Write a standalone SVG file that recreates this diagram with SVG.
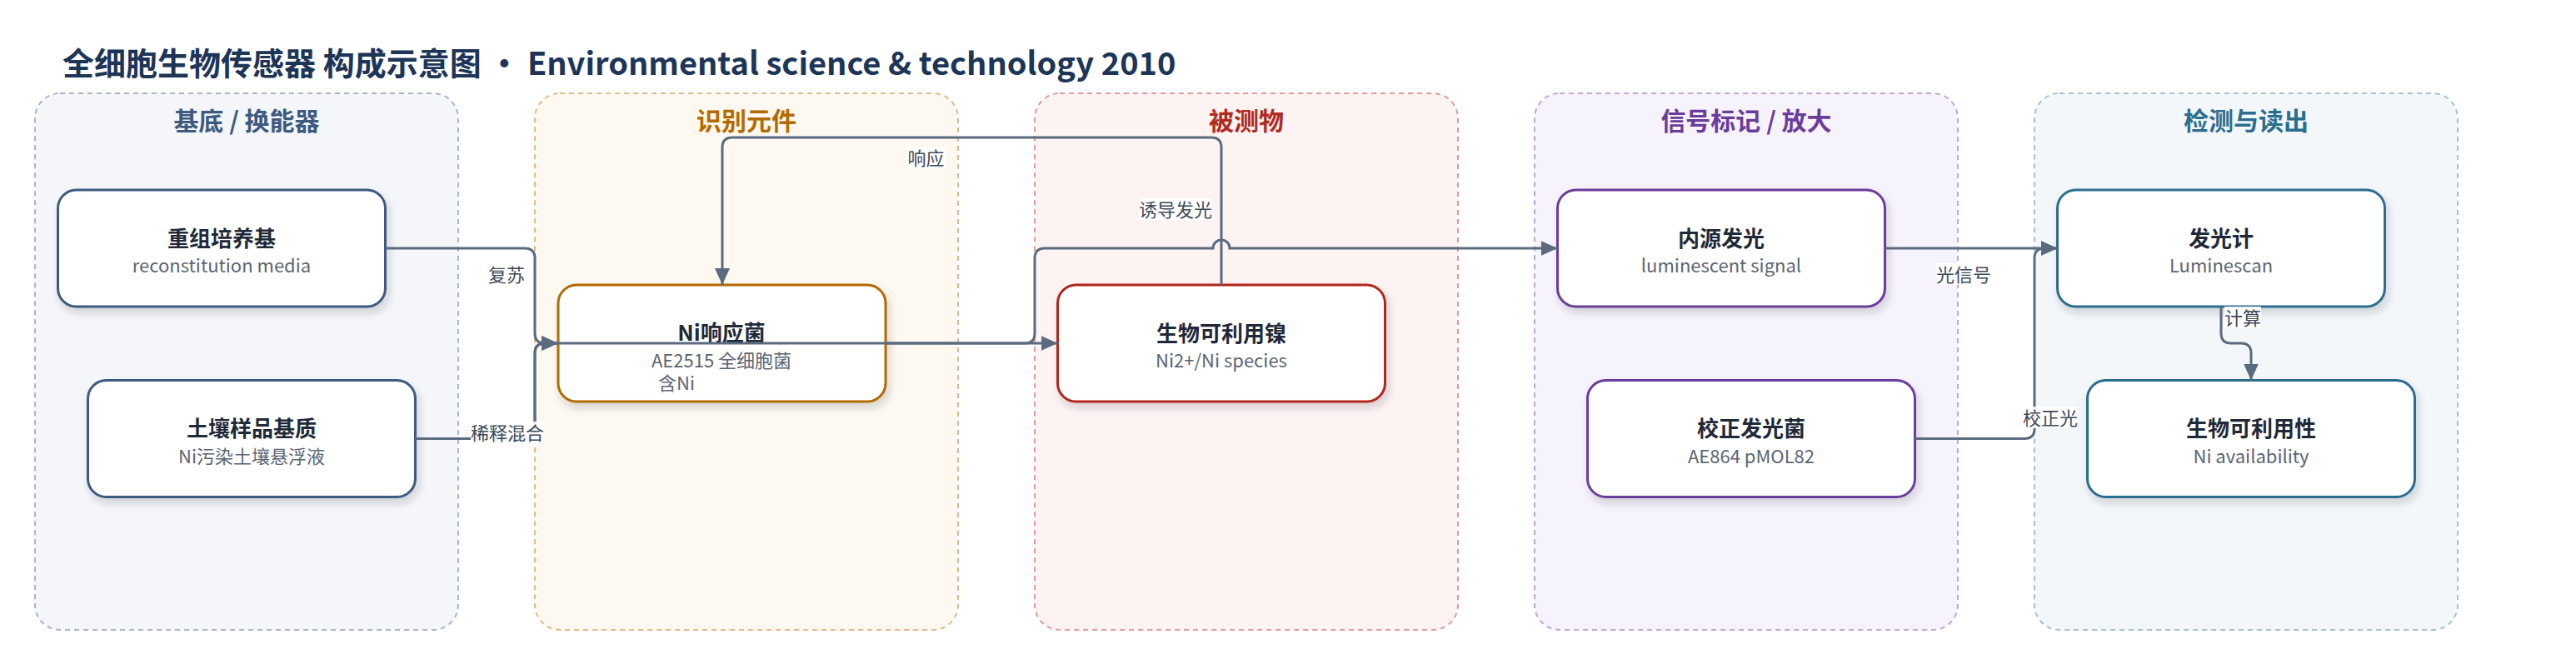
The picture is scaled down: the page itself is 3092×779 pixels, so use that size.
<svg xmlns="http://www.w3.org/2000/svg" width="3092" height="779" viewBox="0 0 3092 779">
<defs>
<filter id="sh" x="-10%" y="-10%" width="125%" height="140%">
<feDropShadow dx="3" dy="6" stdDeviation="5" flood-color="#1f2937" flood-opacity="0.18"/>
</filter>
<marker id="ah" markerUnits="userSpaceOnUse" markerWidth="20" markerHeight="18" refX="20" refY="9" orient="auto">
<path d="M0,0 L20,9 L0,18 z" fill="#5b6b7f"/>
</marker>
</defs>
<style>
text{font-family:"Noto Sans CJK SC","Noto Sans",sans-serif}
.cl{stroke-width:2;stroke-dasharray:6 5}
.ct{font-size:30px;font-weight:700;text-anchor:middle}
.nd{fill:#fff;stroke-width:3;filter:url(#sh)}
.nt{font-size:26px;font-weight:700;fill:#1f2937;text-anchor:middle}
.ns{font-size:22px;fill:#5b6573;text-anchor:middle}
.e{fill:none;stroke:#5b6b7f;stroke-width:3}
.ea{marker-end:url(#ah)}
.lb{font-size:22px;fill:#3f4a5a;text-anchor:middle}
.lbg{fill:#fff;fill-opacity:0.9}
</style>
<rect width="3092" height="779" fill="#fff"/>
<text x="75" y="90" font-size="38" font-weight="700" fill="#1d3557">全细胞生物传感器 构成示意图 · Environmental science &amp; technology 2010</text>

<g id="clusters">
<g id="c1"><rect class="cl" x="42" y="112" width="508" height="644" rx="30" fill="#f4f6fa" stroke="#a8b4c6"/><text class="ct" x="296" y="156" fill="#3d5a80">基底 / 换能器</text></g>
<g id="c2"><rect class="cl" x="642" y="112" width="508" height="644" rx="30" fill="#fdf8f0" stroke="#e0bb85"/><text class="ct" x="896" y="156" fill="#b36b00">识别元件</text></g>
<g id="c3"><rect class="cl" x="1242" y="112" width="508" height="644" rx="30" fill="#fdf3f2" stroke="#e09a9a"/><text class="ct" x="1496" y="156" fill="#b02a1f">被测物</text></g>
<g id="c4"><rect class="cl" x="1842" y="112" width="508" height="644" rx="30" fill="#f7f3fc" stroke="#c0a5dc"/><text class="ct" x="2096" y="156" fill="#6a3d9a">信号标记 / 放大</text></g>
<g id="c5"><rect class="cl" x="2442" y="112" width="508" height="644" rx="30" fill="#f3f7f9" stroke="#a6c2d0"/><text class="ct" x="2696" y="156" fill="#2c6e8f">检测与读出</text></g>
</g>

<g id="n1"><rect class="nd" x="69.5" y="228" width="393" height="140" rx="22" stroke="#3d5a80"/><text class="nt" x="266" y="295.5">重组培养基</text><text class="ns" x="266" y="327">reconstitution media</text></g>
<g id="n2"><rect class="nd" x="105.5" y="456.5" width="393" height="140" rx="22" stroke="#3d5a80"/><text class="nt" x="302" y="524">土壤样品基质</text><text class="ns" x="302" y="556">Ni污染土壤悬浮液</text></g>
<g id="n3"><rect class="nd" x="670" y="342" width="393" height="140" rx="22" stroke="#b36b00"/><text class="nt" x="866" y="408.5">Ni响应菌</text><text class="ns" x="866" y="441">AE2515 全细胞菌</text><text class="ns" x="790" y="468" style="text-anchor:start">含Ni</text></g>
<g id="n4"><rect class="nd" x="1269.5" y="342" width="393" height="140" rx="22" stroke="#b3261e"/><text class="nt" x="1466" y="409.5">生物可利用镍</text><text class="ns" x="1466" y="441">Ni2+/Ni species</text></g>
<g id="n5"><rect class="nd" x="1869.5" y="228" width="393" height="140" rx="22" stroke="#6a3d9a"/><text class="nt" x="2066" y="295.5">内源发光</text><text class="ns" x="2066" y="327">luminescent signal</text></g>
<g id="n6"><rect class="nd" x="1905.5" y="456.5" width="393" height="140" rx="22" stroke="#6a3d9a"/><text class="nt" x="2102" y="524">校正发光菌</text><text class="ns" x="2102" y="556">AE864 pMOL82</text></g>
<g id="n7"><rect class="nd" x="2469.5" y="228" width="393" height="140" rx="22" stroke="#2c6e8f"/><text class="nt" x="2666" y="295.5">发光计</text><text class="ns" x="2666" y="327">Luminescan</text></g>
<g id="n8"><rect class="nd" x="2505.5" y="456.5" width="393" height="140" rx="22" stroke="#2c6e8f"/><text class="nt" x="2702" y="524">生物可利用性</text><text class="ns" x="2702" y="556">Ni availability</text></g>

<g id="connectors">
<path class="e ea" d="M462.5 298 H630 Q642 298 642 310 V400 Q642 412 654 412 H670"/>
<path class="e ea" d="M498.5 526.5 H630 Q642 526.5 642 514.5 V424 Q642 412 654 412 H670"/>
<path class="e ea" d="M498.5 526.5 H630 Q642 526.5 642 514.5 V424 Q642 412 654 412 H1269.5"/>
<path class="e ea" d="M1466 342 V177 Q1466 165 1454 165 H879 Q867 165 867 177 V342"/>
<path class="e ea" d="M1063 412 H1230 Q1242 412 1242 400 V310 Q1242 298 1254 298 H1456 A10 10 0 0 1 1476 298 H1869.5"/>
<path class="e ea" d="M2262.5 298 H2469.5"/>
<path class="e ea" d="M2298.5 526.5 H2430 Q2442 526.5 2442 514.5 V310 Q2442 298 2454 298 H2469.5"/>
<path class="e ea" d="M2666 368 V400 Q2666 412 2678 412 H2690 Q2702 412 2702 424 V456.5"/>
</g>

<g id="labels">
<rect class="lbg" x="586" y="316" width="44" height="26"/><text class="lb" x="608" y="338">复苏</text>
<rect class="lbg" x="565" y="506" width="88" height="26"/><text class="lb" x="609" y="528">稀释混合</text>
<rect class="lbg" x="1089" y="176" width="45" height="26"/><text class="lb" x="1111.5" y="198">响应</text>
<rect class="lbg" x="1367" y="238" width="88" height="26"/><text class="lb" x="1411" y="260">诱导发光</text>
<rect class="lbg" x="2324" y="316" width="66" height="26"/><text class="lb" x="2357" y="338">光信号</text>
<rect class="lbg" x="2428" y="488" width="66" height="26"/><text class="lb" x="2461" y="510">校正光</text>
<rect class="lbg" x="2670" y="368" width="44" height="26"/><text class="lb" x="2692" y="390">计算</text>
</g>
</svg>
